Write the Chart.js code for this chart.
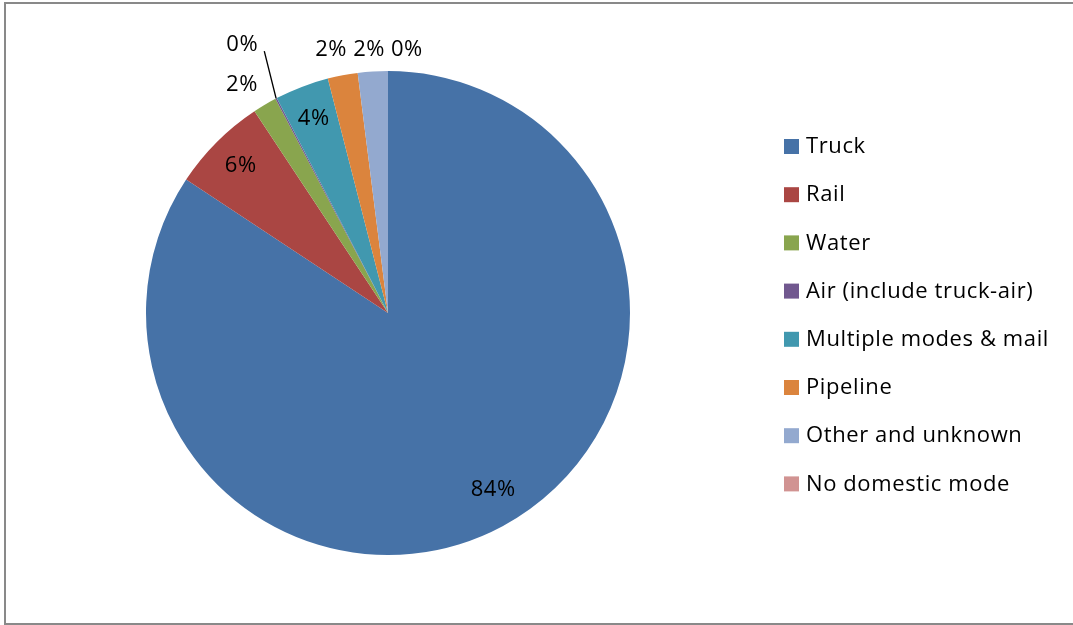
<!DOCTYPE html>
<html>
<head>
<meta charset="utf-8">
<script src="https://cdn.jsdelivr.net/npm/chart.js@4.4.0/dist/chart.umd.min.js"></script>
<style>
  html, body { margin: 0; padding: 0; background: #fff; overflow: hidden; }
  #wrap { position: relative; width: 1073px; height: 625px; overflow: hidden; }
  #frame { position: absolute; left: 4px; top: 2px; width: 1090px; height: 619px; border-style: solid; border-color: #898989; border-width: 2px 0 2px 2px; }
  canvas { position: absolute; left: 0; top: 0; }
</style>
</head>
<body>
<div id="wrap">
  <div id="frame"></div>
  <canvas id="modosChart" width="1073" height="625"></canvas>
</div>
<script>
// Modos de transporte (porcentaje)
var modos = ['Truck', 'Rail', 'Water', 'Air (include truck-air)', 'Multiple modes & mail', 'Pipeline', 'Other and unknown', 'No domestic mode'];
var porcentajes = [84.3, 6.4, 1.6, 0.1, 3.6, 2.0, 2.0, 0.0];
var colores = ['#4672A7', '#AA4643', '#89A54E', '#71588F', '#4198AF', '#DB843D', '#93A9CF', '#D19392'];

// Ubicación de cada etiqueta: dentro (factor del radio) o fuera (px sobre el borde + giro en grados)
var ubicacion = [
    { dentro: 0.85, giro: -2.5 },
    { dentro: 0.86 },
    { fuera: 29, giro: -2 },
    { fuera: 63, giro: -1, guia: true },
    { dentro: 0.86 },
    { fuera: 27, giro: -1.4 },
    { fuera: 22, giro: -0.5 },
    { fuera: 22, giro: 4.1 }
];

var fuente = '22px "Open Sans", Lato, sans-serif';

function prepararTexto(ctx) {
    ctx.font = fuente;
    ctx.letterSpacing = '0.6px';
    ctx.fillStyle = '#000';
}

// Etiquetas de porcentaje sobre las porciones
var etiquetasPlugin = {
    id: 'etiquetas',
    afterDatasetsDraw: function(chart) {
        var ctx = chart.ctx;
        var arcos = chart.getDatasetMeta(0).data;
        ctx.save();
        prepararTexto(ctx);
        ctx.textAlign = 'center';
        ctx.textBaseline = 'middle';
        arcos.forEach(function(arco, i) {
            var p = arco.getProps(['x', 'y', 'startAngle', 'endAngle', 'outerRadius'], true);
            var u = ubicacion[i];
            var medio = (p.startAngle + p.endAngle) / 2;
            var ang = medio + (u.giro || 0) * Math.PI / 180;
            var dist = u.dentro ? p.outerRadius * u.dentro : p.outerRadius + u.fuera;
            var tx = p.x + Math.cos(ang) * dist;
            var ty = p.y + Math.sin(ang) * dist;
            ctx.fillText(Math.round(porcentajes[i]) + '%', tx, ty);
            if (u.guia) {
                ctx.strokeStyle = '#000';
                ctx.lineWidth = 1.3;
                ctx.beginPath();
                ctx.moveTo(tx + 22, ty + 6);
                ctx.lineTo(p.x + Math.cos(medio) * p.outerRadius, p.y + Math.sin(medio) * p.outerRadius);
                ctx.stroke();
            }
        });
        ctx.restore();
    }
};

// Leyenda a la derecha
var leyendaPlugin = {
    id: 'leyenda',
    afterDraw: function(chart) {
        var ctx = chart.ctx;
        ctx.save();
        prepararTexto(ctx);
        ctx.textBaseline = 'middle';
        ctx.textAlign = 'left';
        modos.forEach(function(m, i) {
            var y = 146 + i * 48.2;
            ctx.fillStyle = colores[i];
            ctx.fillRect(784, y - 7, 15, 15);
            ctx.fillStyle = '#000';
            ctx.fillText(m, 806, y + 1);
        });
        ctx.restore();
    }
};

var ctx = document.getElementById('modosChart').getContext('2d');
new Chart(ctx, {
    type: 'pie',
    data: {
        labels: modos,
        datasets: [{
            data: porcentajes,
            backgroundColor: colores,
            borderWidth: 0
        }]
    },
    options: {
        responsive: false,
        animation: false,
        layout: { padding: { left: 146, right: 443, top: 71, bottom: 70 } },
        plugins: {
            legend: { display: false },
            tooltip: { enabled: false }
        }
    },
    plugins: [etiquetasPlugin, leyendaPlugin]
});
</script>
</body>
</html>
